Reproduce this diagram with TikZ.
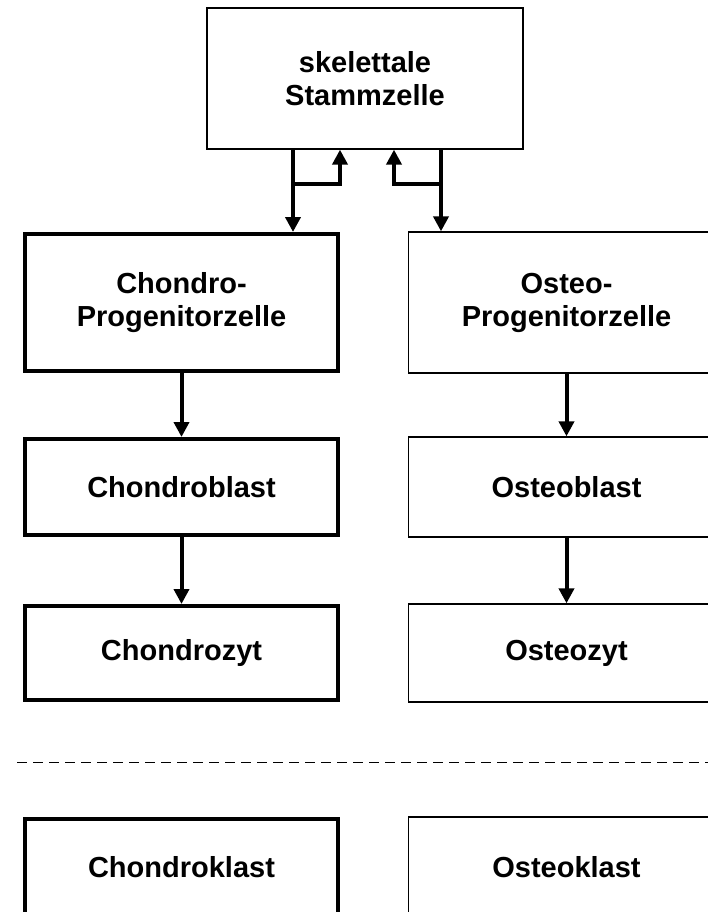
\documentclass[tikz,border=0pt]{standalone}
\usepackage{fontspec}
\setmainfont{Liberation Sans}
\usepackage{tikz}
\usetikzlibrary{
  arrows.meta,
  calc
}
\tikzset{
  every zelle/.style={rectangle,align=center,inner sep=0pt,
    font=\fontsize{29}{33}\selectfont\bfseries},
  knorpel/.style={every zelle,draw,line width=4pt,
    minimum width=313pt},
  knochen/.style={every zelle,draw,line width=1.3pt,
    minimum width=316pt},
  pfeil/.style={line width=4pt,-{Triangle[length=15pt,width=15pt]}},
}
\colorlet{trenner}{black}

\begin{document}
\begin{tikzpicture}[x=1pt,y=-1pt]
\useasboundingbox (0,0) rectangle (708,912);
\node[knochen,minimum height=141pt] (stamm) at (365,78.5) {skelettale\\Stammzelle};
\node[knorpel,minimum height=137pt] (chp) at (181.5,302.5) {Chondro-\\Progenitorzelle};
\node[knochen,minimum height=141pt] (osp) at (566.5,302.5) {Osteo-\\Progenitorzelle};
\node[knorpel,minimum height=96pt] (chb) at (181.5,487) {Chondroblast};
\node[knochen,minimum height=100pt] (osb) at (566.5,487) {Osteoblast};
\node[knorpel,minimum height=94pt] (chz) at (181.5,653) {Chondrozyt};
\node[knochen,minimum height=98pt] (osz) at (566.5,653) {Osteozyt};
\node[knorpel,minimum height=96pt] (chk) at (181.5,867) {Chondroklast};
\node[knochen,minimum height=100pt] (osk) at (566.5,867) {Osteoklast};
\coordinate (gabelL) at (293,184);
\coordinate (gabelR) at (441,184);
\coordinate (rueckL) at (340,184);
\coordinate (rueckR) at (394,184);
\draw[pfeil] (gabelL |- stamm.south) -- (gabelL |- chp.north);
\draw[pfeil] (gabelR |- stamm.south) -- (gabelR |- osp.north);
\draw[pfeil] (gabelL) -- (rueckL) -- (rueckL |- stamm.south);
\draw[pfeil] (gabelR) -- (rueckR) -- (rueckR |- stamm.south);
\foreach \von/\nach in {chp/chb, chb/chz, osp/osb, osb/osz}
{
  \draw[pfeil] (\von) -- (\nach);
}
\coordinate (trennA) at (17,762);
\coordinate (trennB) at (708,762);
\draw[trenner,line width=1pt,dash pattern=on 10pt off 6pt] (trennA) -- (trennB);
\end{tikzpicture}
\end{document}
